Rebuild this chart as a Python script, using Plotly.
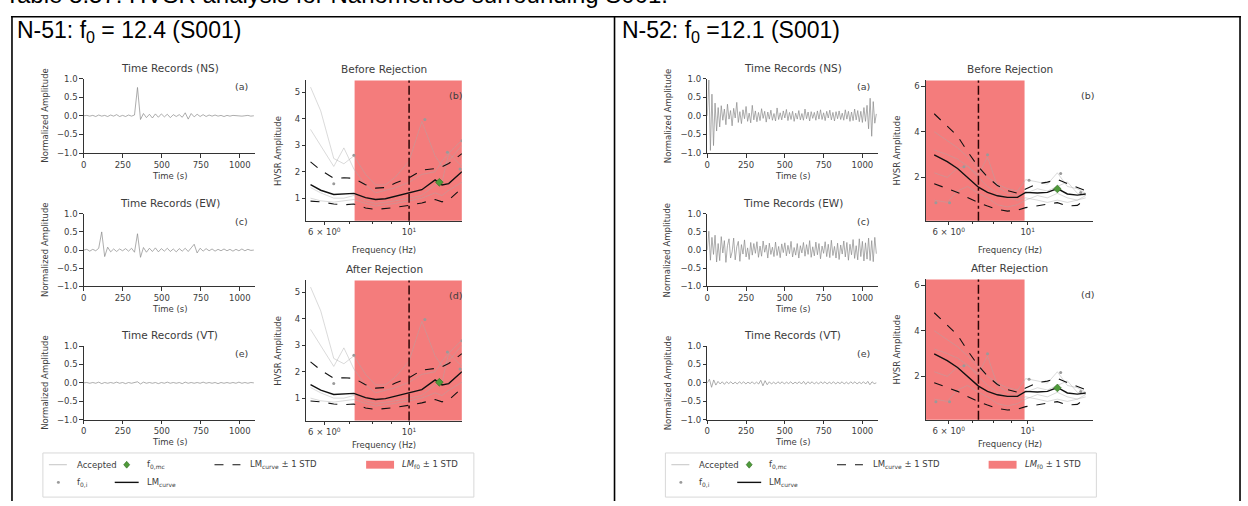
import numpy as np
import plotly.graph_objects as go

W, H = 1248, 506

# ---------------- data ----------------
caption = "Table 8.57: HVSR analysis for Nanometrics surrounding S001."
panel_titles = ["N-51: f<sub>0</sub> = 12.4 (S001)", "N-52: f<sub>0</sub> =12.1 (S001)"]

time_end = 1090
time_ticks = [0, 250, 500, 750, 1000]
amp_ticks = [-1.0, -0.5, 0.0, 0.5, 1.0]
amp_tick_labels = ["\u22121.0", "\u22120.5", "0.0", "0.5", "1.0"]
component_titles = ["Time Records (NS)", "Time Records (EW)", "Time Records (VT)"]
component_letters = ["(a)", "(c)", "(e)"]
hvsr_titles = ["Before Rejection", "After Rejection"]
hvsr_letters = ["(b)", "(d)"]
freq_ticks = [6, 10]
freq_tick_labels = ["6 \u00d7 10<sup>0</sup>", "10<sup>1</sup>"]
freq_minor = [7, 8, 9, 20]

# N-51 time records
ns_51 = [0.00, 0.01, -0.01, 0.01, -0.02, 0.02, -0.01, 0.01, -0.02, 0.02,
         -0.01, 0.03, -0.02, 0.01, -0.02, 0.02, -0.01, 0.02, 0.76, -0.10,
         0.06, -0.05, 0.04, -0.06, 0.05, -0.04, 0.05, -0.03, 0.04, -0.05,
         0.03, -0.02, 0.03, -0.04, 0.08, -0.09, 0.06, -0.03, 0.04, -0.02,
         0.03, -0.02, 0.02, -0.01, 0.02, -0.01, 0.01, -0.02, 0.01, -0.01,
         0.01, 0.00, 0.01, -0.01, 0.00, 0.01, -0.01, 0.00]
ew_51 = [0.00, 0.02, -0.03, 0.02, -0.02, 0.05, 0.50, -0.18, 0.08, -0.05,
         0.03, -0.04, 0.03, -0.02, 0.04, -0.03, 0.05, -0.06, 0.45, -0.20,
         0.07, -0.06, 0.05, -0.04, 0.06, -0.05, 0.04, -0.03, 0.05, -0.04,
         0.03, -0.05, 0.04, -0.03, 0.05, -0.04, 0.06, 0.16, -0.08, 0.05,
         -0.03, 0.04, -0.02, 0.03, -0.03, 0.02, -0.02, 0.03, -0.02, 0.02,
         -0.03, 0.02, -0.02, 0.03, -0.02, 0.02, -0.01, 0.00]
vt_51 = [0.00, 0.01, -0.01, 0.01, -0.01, 0.02, -0.02, 0.01, -0.01, 0.01,
         -0.01, 0.02, -0.01, 0.01, -0.02, 0.01, -0.01, 0.02, 0.03, -0.03,
         0.02, -0.01, 0.01, -0.01, 0.01, -0.02, 0.01, -0.01, 0.02, -0.01,
         0.01, -0.01, 0.01, -0.02, 0.02, -0.01, 0.01, -0.01, 0.01, -0.01,
         0.02, -0.01, 0.01, -0.01, 0.01, -0.02, 0.01, -0.01, 0.01, -0.01,
         0.01, -0.01, 0.02, -0.01, 0.01, -0.01, 0.01, 0.00]

# N-52 time records
ns_52 = [0.00, 0.96, -0.93, 0.58, -0.80, 0.34, -0.41, 0.22, -0.30, 0.27,
         -0.12, 0.18, -0.24, 0.31, -0.09, 0.14, -0.27, 0.20, -0.06, 0.36,
         -0.18, 0.11, -0.21, 0.16, -0.08, 0.25, -0.15, 0.07, -0.19, 0.28,
         -0.11, 0.13, -0.16, 0.09, -0.13, 0.19, -0.07, 0.12, -0.17, 0.10,
         -0.09, 0.15, -0.12, 0.06, -0.14, 0.21, -0.10, 0.08, -0.11, 0.13,
         -0.06, 0.17, -0.13, 0.09, -0.10, 0.12, -0.15, 0.07, -0.09, 0.14,
         -0.11, 0.06, -0.12, 0.18, -0.08, 0.10, -0.14, 0.11, -0.07, 0.09,
         -0.12, 0.13, -0.09, 0.16, -0.10, 0.08, -0.13, 0.12, -0.06, 0.15,
         -0.11, 0.09, -0.14, 0.11, -0.08, 0.13, -0.10, 0.07, -0.12, 0.16,
         -0.09, 0.12, -0.15, 0.10, -0.13, 0.18, -0.11, 0.14, -0.16, 0.12,
         -0.18, 0.22, -0.15, 0.28, -0.35, 0.47, -0.55, 0.38, -0.20, 0.05]
ew_52 = [0.00, 0.52, -0.28, 0.35, -0.12, 0.41, -0.33, 0.18, -0.29, 0.37,
         -0.08, 0.26, -0.34, 0.12, 0.31, -0.22, -0.05, 0.33, -0.27, 0.09,
         0.24, -0.31, 0.15, -0.11, 0.28, -0.19, 0.06, -0.26, 0.21, -0.14,
         0.18, -0.09, 0.23, -0.20, 0.11, -0.17, 0.25, -0.06, 0.14, -0.22,
         0.19, -0.12, 0.08, -0.18, 0.22, -0.15, 0.10, -0.21, 0.17, -0.07,
         0.20, -0.16, 0.13, -0.10, 0.24, -0.19, 0.07, -0.14, 0.18, -0.22,
         0.12, -0.08, 0.21, -0.17, 0.15, -0.12, 0.26, -0.20, 0.09, -0.16,
         0.22, -0.13, 0.18, -0.24, 0.11, -0.09, 0.23, -0.18, 0.16, -0.21,
         0.27, -0.15, 0.10, -0.22, 0.19, -0.26, 0.14, -0.11, 0.25, -0.19,
         0.21, -0.28, 0.16, -0.13, 0.29, -0.23, 0.12, -0.27, 0.31, -0.18,
         0.24, -0.30, 0.20, -0.25, 0.33, -0.29, 0.26, -0.32, 0.35, -0.10]
vt_52 = [0.00, 0.10, -0.12, 0.08, -0.06, 0.04, -0.03, 0.03, -0.04, 0.03,
         -0.02, 0.03, -0.03, 0.02, -0.03, 0.03, -0.02, 0.03, -0.03, 0.02,
         -0.02, 0.03, -0.03, 0.02, -0.03, 0.07, -0.08, 0.06, -0.05, 0.03,
         -0.03, 0.02, -0.03, 0.03, -0.02, 0.03, -0.03, 0.02, -0.02, 0.03,
         -0.03, 0.02, -0.02, 0.03, -0.03, 0.04, -0.04, 0.03, -0.02, 0.03,
         -0.03, 0.02, -0.03, 0.03, -0.02, 0.03, -0.03, 0.02, -0.02, 0.03,
         -0.03, 0.02, -0.02, 0.03, -0.03, 0.02, -0.03, 0.03, -0.02, 0.03,
         -0.03, 0.02, -0.02, 0.03, -0.03, 0.04, -0.05, 0.03, -0.02, 0.00]

# N-51 HVSR
freq_51 = [5.52, 5.87, 6.35, 6.75, 7.17, 7.69, 8.17, 8.67, 9.21, 10.0, 10.8, 11.7, 12.2, 12.7, 13.75]
lm_51 = [1.51, 1.30, 1.14, 1.15, 1.18, 1.02, 0.95, 0.98, 1.07, 1.20, 1.32, 1.69, 1.50, 1.55, 2.00]
lm_up_51 = [2.37, 2.06, 1.75, 1.77, 1.75, 1.51, 1.38, 1.40, 1.57, 1.77, 2.06, 2.12, 2.19, 2.31, 2.68]
lm_lo_51 = [0.89, 0.86, 0.78, 0.75, 0.78, 0.63, 0.57, 0.60, 0.65, 0.73, 0.82, 0.95, 0.86, 0.93, 1.38]
acc_51 = [
    [5.20, 4.30, 2.50, 2.30, 2.60, 1.90, 1.50, 1.50, 1.80, 2.40, 3.90, 2.60, 2.20, 2.40, 3.00],
    [3.60, 3.00, 2.20, 2.90, 2.10, 1.50, 1.20, 1.30, 1.40, 1.60, 1.90, 2.00, 2.40, 2.70, 3.20],
    [1.40, 1.20, 1.00, 1.00, 1.10, 0.90, 0.80, 0.85, 0.90, 1.00, 1.10, 1.50, 1.60, 2.70, 2.20],
    [1.00, 0.90, 0.85, 0.90, 0.95, 0.80, 0.70, 0.75, 0.80, 0.90, 1.00, 1.20, 1.10, 1.30, 1.60],
]
f0i_freq_51 = [11.0, 13.75, 12.6, 7.17, 13.6, 6.35]
f0i_amp_51 = [3.97, 3.17, 2.74, 2.62, 2.10, 1.55]
f0mc_freq_51, f0mc_amp_51 = [12.0], [1.60]
lmf0_span_51 = [7.2, 13.75]
f0_line_51 = 10.0

# N-52 HVSR
freq_52 = [5.46, 5.94, 6.35, 6.77, 7.27, 7.71, 8.22, 8.77, 9.36, 9.87, 10.65, 11.36, 12.12, 12.93, 13.79, 14.56]
lm_52 = [2.99, 2.69, 2.39, 2.01, 1.57, 1.34, 1.19, 1.12, 1.12, 1.34, 1.31, 1.34, 1.51, 1.27, 1.22, 1.27]
lm_up_52 = [4.79, 4.26, 3.81, 3.14, 2.46, 2.01, 1.64, 1.42, 1.30, 1.49, 1.72, 1.79, 1.91, 1.72, 1.57, 1.42]
lm_lo_52 = [1.72, 1.49, 1.34, 1.12, 0.89, 0.74, 0.59, 0.52, 0.56, 0.67, 0.74, 0.82, 0.89, 0.74, 0.77, 1.04]
acc_52 = [
    [4.00, 3.60, 3.30, 2.90, 2.40, 2.00, 1.70, 1.50, 1.40, 1.90, 1.80, 1.70, 2.20, 1.60, 1.50, 1.30],
    [2.20, 2.00, 2.40, 2.50, 2.10, 2.90, 1.60, 1.30, 1.20, 1.30, 1.50, 1.40, 1.60, 1.80, 1.30, 1.20],
    [1.00, 0.90, 1.40, 1.60, 1.30, 1.10, 0.80, 0.70, 0.80, 1.00, 1.20, 1.10, 1.30, 1.10, 1.00, 1.10],
    [3.20, 3.00, 2.80, 2.50, 2.00, 1.60, 1.30, 1.10, 1.00, 1.10, 1.00, 0.90, 1.00, 0.90, 1.00, 1.20],
]
f0i_freq_52 = [5.52, 6.03, 6.62, 7.71, 10.09, 12.38, 14.1]
f0i_amp_52 = [0.89, 0.89, 2.46, 2.99, 1.87, 2.17, 1.34]
f0mc_freq_52, f0mc_amp_52 = [12.12], [1.49]
lmf0_span_52 = [5.17, 9.8]
f0_line_52 = 7.27

# ---------------- layout geometry (pixels) ----------------
FONT = "DejaVu Sans"
TXT = "#3c3c3c"
AX = "#333333"

panels = [
    dict(ox=0, tx=(81, 253), ty=[(75, 151), (213, 287), (348, 423)],
         hx=(304, 460), hy=[(77, 220), (281, 424)], hxr=(5.38, 13.75), hyr=[0.15, 5.45],
         hyt=[1, 2, 3, 4, 5], title_x=12,
         series=[ns_51, ew_51, vt_51], freq=freq_51, lm=lm_51, up=lm_up_51, lo=lm_lo_51,
         acc=acc_51, f0i=(f0i_freq_51, f0i_amp_51), f0mc=(f0mc_freq_51, f0mc_amp_51),
         span=lmf0_span_51, f0line=f0_line_51),
    dict(ox=624, tx=(706, 877), ty=[(75, 151), (213, 287), (348, 423)],
         hx=(925, 1093), hy=[(77, 220), (280, 423)], hxr=(5.17, 15.3), hyr=[0.1, 6.25],
         hyt=[2, 4, 6], title_x=618,
         series=[ns_52, ew_52, vt_52], freq=freq_52, lm=lm_52, up=lm_up_52, lo=lm_lo_52,
         acc=acc_52, f0i=(f0i_freq_52, f0i_amp_52), f0mc=(f0mc_freq_52, f0mc_amp_52),
         span=lmf0_span_52, f0line=f0_line_52),
]


def dx(a, b):
    return [a / W, b / W]


def dy(top, bottom):
    return [1 - bottom / H, 1 - top / H]


def px(x):
    return x / W


def py(y):
    return 1 - y / H


fig = go.Figure()
lay = {}
ann = []
shp = []

axis_common = dict(showline=True, linecolor=AX, linewidth=1, ticks="outside", ticklen=3.5,
                   tickwidth=1, tickcolor=AX, showgrid=False, zeroline=False,
                   tickfont=dict(family=FONT, size=8.5, color=TXT), mirror=False)


def text(x, y, s, size=8, anchor="center", angle=0, color=TXT, family=FONT, yanchor="middle"):
    ann.append(dict(x=px(x), y=py(y), xref="paper", yref="paper", text=s, showarrow=False,
                    xanchor=anchor, yanchor=yanchor, textangle=angle,
                    font=dict(family=family, size=size, color=color)))


idx = 0
for pi, p in enumerate(panels):
    ox = p["ox"]
    tcx = (p["tx"][0] + p["tx"][1]) / 2
    # time records
    for k in range(3):
        idx += 1
        xa = "xaxis" if idx == 1 else f"xaxis{idx}"
        ya = "yaxis" if idx == 1 else f"yaxis{idx}"
        vals = p["series"][k]
        times = np.linspace(0, time_end, len(vals))
        fig.add_trace(go.Scatter(x=times, y=vals, mode="lines",
                                 line=dict(color="#8a8a8a", width=0.7),
                                 xaxis=f"x{idx}", yaxis=f"y{idx}", showlegend=False,
                                 hoverinfo="skip"))
        top, bot = p["ty"][k]
        lay[xa] = dict(axis_common, domain=dx(*p["tx"]), anchor=f"y{idx}", range=[0, 1100],
                       tickvals=time_ticks, ticktext=[str(t) for t in time_ticks])
        lay[ya] = dict(axis_common, domain=dy(top, bot), anchor=f"x{idx}", range=[-1.0, 1.0],
                       tickvals=amp_ticks, ticktext=amp_tick_labels)
        text(tcx, top - 11, component_titles[k], size=10.5)
        text(p["tx"][1] - 14, top + 8, component_letters[k], size=9.5)
        text(tcx, bot + 23, "Time (s)", size=8.5)
        text(ox + 42, (top + bot) / 2, "Normalized Amplitude", size=8.5, angle=-90)

    # HVSR panels
    hcx = (p["hx"][0] + p["hx"][1]) / 2
    for k in range(2):
        idx += 1
        xa = f"xaxis{idx}"
        ya = f"yaxis{idx}"
        xr, yr = f"x{idx}", f"y{idx}"
        top, bot = p["hy"][k]
        for a in p["acc"]:
            fig.add_trace(go.Scatter(x=p["freq"], y=a, mode="lines",
                                     line=dict(color="rgba(170,170,170,0.55)", width=0.8),
                                     xaxis=xr, yaxis=yr, showlegend=False, hoverinfo="skip"))
        fig.add_trace(go.Scatter(x=p["f0i"][0], y=p["f0i"][1], mode="markers",
                                 marker=dict(color="#9a9a9a", size=3, symbol="circle"),
                                 xaxis=xr, yaxis=yr, showlegend=False, hoverinfo="skip"))
        for band in (p["up"], p["lo"]):
            fig.add_trace(go.Scatter(x=p["freq"], y=band, mode="lines",
                                     line=dict(color="#111", width=1.1, dash="dash"),
                                     xaxis=xr, yaxis=yr, showlegend=False, hoverinfo="skip"))
        fig.add_trace(go.Scatter(x=p["freq"], y=p["lm"], mode="lines",
                                 line=dict(color="#111", width=1.4),
                                 xaxis=xr, yaxis=yr, showlegend=False, hoverinfo="skip"))
        fig.add_trace(go.Scatter(x=p["f0mc"][0], y=p["f0mc"][1], mode="markers",
                                 marker=dict(color="#4f9a3a", size=6, symbol="diamond",
                                             line=dict(color="#2f6a22", width=0.6)),
                                 xaxis=xr, yaxis=yr, showlegend=False, hoverinfo="skip"))
        lay[xa] = dict(axis_common, domain=dx(*p["hx"]), anchor=yr, type="log",
                       range=[np.log10(p["hxr"][0]), np.log10(p["hxr"][1])],
                       tickvals=freq_ticks, ticktext=freq_tick_labels,
                       minor=dict(tickvals=freq_minor, ticks="outside", ticklen=2,
                                  tickcolor=AX, tickwidth=0.8))
        lay[ya] = dict(axis_common, domain=dy(top, bot), anchor=xr, range=p["hyr"],
                       tickvals=p["hyt"], ticktext=[str(v) for v in p["hyt"]])
        shp.append(dict(type="rect", xref=xr, yref=f"{yr} domain", x0=p["span"][0],
                        x1=p["span"][1], y0=0, y1=1, fillcolor="#F47C7C", line=dict(width=0),
                        layer="below"))
        shp.append(dict(type="line", xref=xr, yref=f"{yr} domain", x0=p["f0line"],
                        x1=p["f0line"], y0=0, y1=1,
                        line=dict(color="#2a0505", width=1.5, dash="dashdot")))
        text(hcx, top - 12, hvsr_titles[k], size=10.5)
        text(p["hx"][1] - 6, top + 15, hvsr_letters[k], size=9.5)
        text(hcx, bot + 30 if k == 0 else bot + 25, "Frequency (Hz)", size=8.5)
        text(p["hx"][0] - 29, (top + bot) / 2, "HVSR Amplitude", size=8.5, angle=-90)

    # panel heading
    text(p["title_x"], 27, panel_titles[pi], size=23, anchor="left",
         color="#000", family="Liberation Sans")

    # legend (manual, matplotlib-like)
    r1, r2 = 469, 487
    shp.append(dict(type="rect", xref="paper", yref="paper", x0=px(ox + 40), x1=px(ox + 472),
                    y0=py(502), y1=py(457), line=dict(color="#d8d8d8", width=1),
                    fillcolor="white"))
    shp.append(dict(type="line", xref="paper", yref="paper", x0=px(ox + 46), x1=px(ox + 64),
                    y0=py(r1), y1=py(r1), line=dict(color="#c4c4c4", width=1)))
    text(ox + 72, r1, "Accepted", size=8.5, anchor="left")
    shp.append(dict(type="circle", xref="paper", yref="paper", x0=px(ox + 54), x1=px(ox + 57),
                    y0=py(r2 + 1.5), y1=py(r2 - 1.5), fillcolor="#9a9a9a", line=dict(width=0)))
    text(ox + 72, r2, "f<sub>0,i</sub>", size=8.5, anchor="left")
    cx = ox + 124
    shp.append(dict(type="path", xref="paper", yref="paper",
                    path=f"M {px(cx)},{py(r1 - 3.5)} L {px(cx + 3)},{py(r1)} L {px(cx)},{py(r1 + 3.5)} L {px(cx - 3)},{py(r1)} Z",
                    fillcolor="#4f9a3a", line=dict(color="#2f6a22", width=0.6)))
    text(ox + 142, r1, "f<sub>0,mc</sub>", size=8.5, anchor="left")
    shp.append(dict(type="line", xref="paper", yref="paper", x0=px(ox + 112), x1=px(ox + 136),
                    y0=py(r2), y1=py(r2), line=dict(color="#111", width=1.4)))
    text(ox + 142, r2, "LM<sub>curve</sub>", size=8.5, anchor="left")
    shp.append(dict(type="line", xref="paper", yref="paper", x0=px(ox + 212), x1=px(ox + 238),
                    y0=py(r1), y1=py(r1), line=dict(color="#111", width=1.1, dash="dash")))
    text(ox + 246, r1, "LM<sub>curve</sub> \u00b1 1 STD", size=8.5, anchor="left")
    shp.append(dict(type="rect", xref="paper", yref="paper", x0=px(ox + 364), x1=px(ox + 392),
                    y0=py(r1 + 4), y1=py(r1 - 4), fillcolor="#F47C7C", line=dict(width=0)))
    text(ox + 398, r1, "<i>LM</i><sub>f0</sub> \u00b1 1 STD", size=8.5, anchor="left")

# caption (cut at the top, as in the scanned table) and table borders
text(0, -11, caption, size=24, anchor="left", color="#000", family="Liberation Sans")
for (x0, y0, x1, y1) in [(8, 12, 1241, 12), (9, 12, 9, 506), (613, 12, 613, 506), (1240, 12, 1240, 506)]:
    shp.append(dict(type="line", xref="paper", yref="paper", x0=px(x0), x1=px(x1),
                    y0=py(y0), y1=py(y1), line=dict(color="#000", width=1.6)))

fig.update_layout(width=W, height=H, margin=dict(l=0, r=0, t=0, b=0),
                  paper_bgcolor="white", plot_bgcolor="rgba(0,0,0,0)",
                  showlegend=False, annotations=ann, shapes=shp, **lay)
fig.write_html("out.html", config={"displayModeBar": False},
               post_script="document.body.style.margin='0';")
